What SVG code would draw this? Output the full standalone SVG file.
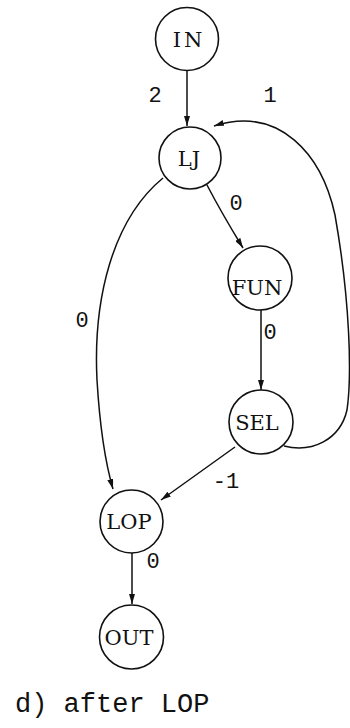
<svg xmlns="http://www.w3.org/2000/svg" width="350" height="728" viewBox="0 0 350 728">
<style>
.n{fill:#fff;stroke:#111;stroke-width:1.6}
.t{font-family:"DejaVu Serif",serif;font-size:21px;fill:#111;text-anchor:middle}
.e{fill:none;stroke:#111;stroke-width:1.5}
.l{font-family:"Liberation Mono",monospace;font-size:22px;fill:#111;text-anchor:middle}
</style>
<defs>
<marker id="a" viewBox="0 0 10 6" refX="10" refY="3" markerWidth="10" markerHeight="6" markerUnits="userSpaceOnUse" orient="auto">
<path d="M0,0 L10,3 L0,6 Z" fill="#111"/>
</marker>
</defs>
<rect width="350" height="728" fill="#fff"/>
<g id="edges">
<path class="e" d="M187,71 L187,126" marker-end="url(#a)"/>
<path class="e" d="M207,185 C220,210 232,230 243,248" marker-end="url(#a)"/>
<path class="e" d="M261,310 L261,390" marker-end="url(#a)"/>
<path class="e" d="M163,178 C112,220 93,300 97,380 C100,430 106,465 113,489" marker-end="url(#a)"/>
<path class="e" d="M235,447 L161,500" marker-end="url(#a)"/>
<path class="e" d="M284,446 C312,453 340,440 347,410 C352,375 350,300 335,215 C322,155 280,105 214,126" marker-end="url(#a)"/>
<path class="e" d="M132,553 L132,604" marker-end="url(#a)"/>
</g>
<g id="IN"><circle class="n" cx="187" cy="39" r="31.5"/><text class="t" x="189" y="47" letter-spacing="3">IN</text></g>
<g id="LJ"><circle class="n" cx="190" cy="158" r="31"/><text class="t" x="189" y="166">LJ</text></g>
<g id="FUN"><circle class="n" cx="260" cy="278" r="32"/><text class="t" x="257" y="295">FUN</text></g>
<g id="SEL"><circle class="n" cx="261" cy="422" r="32"/><text class="t" x="257" y="430">SEL</text></g>
<g id="LOP"><circle class="n" cx="131.5" cy="521.5" r="31.5"/><text class="t" x="129" y="529">LOP</text></g>
<g id="OUT"><circle class="n" cx="131.5" cy="637" r="32"/><text class="t" x="129" y="645">OUT</text></g>
<g id="labels">
<text class="l" x="155" y="102">2</text>
<text class="l" x="270" y="102">1</text>
<text class="l" x="236" y="210">0</text>
<text class="l" x="82" y="327">0</text>
<text class="l" x="270" y="339">0</text>
<text class="l" x="226" y="488">-1</text>
<text class="l" x="153" y="568">0</text>
</g>
<text x="15" y="712" font-family="Liberation Mono,monospace" font-size="27" fill="#111">d) after LOP</text>
</svg>
